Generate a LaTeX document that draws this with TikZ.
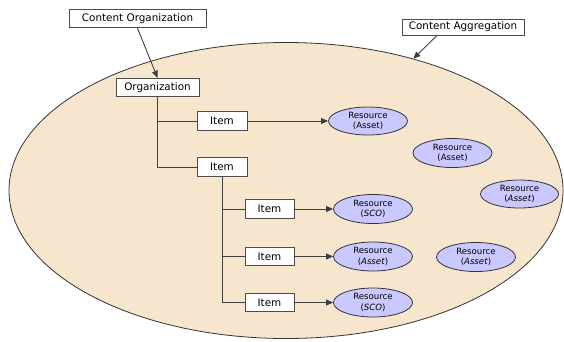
\documentclass[tikz,border=0pt]{standalone}
\usepackage{fontspec}
\setmainfont{DejaVu Sans}
\usetikzlibrary{arrows.meta,shapes.geometric}
\definecolor{aggfill}{HTML}{F7E6CE}
\definecolor{resfill}{HTML}{C9C9FF}
\begin{document}
\begin{tikzpicture}[x=1pt,y=-1pt,
  box/.style={draw=black!70, fill=white, line width=0.9pt, inner sep=0pt,
    minimum height=18.5pt, font=\fontsize{10.4}{12}\selectfont},
  res/.style={ellipse, draw=black!80, fill=resfill, line width=0.8pt, inner sep=0pt,
    minimum width=79pt, minimum height=29pt, align=center,
    font=\fontsize{8.6}{10.4}\selectfont},
  link/.style={draw=black!75, line width=0.9pt},
  arr/.style={link, -{Triangle[length=7pt,width=6pt]}}
]
\useasboundingbox (0,0) rectangle (564,341);

% content aggregation area
\node[ellipse, draw=black!80, fill=aggfill, line width=0.8pt, inner sep=0pt,
  minimum width=554pt, minimum height=296pt] (agg) at (286,190.5) {};

% labels above
\node[box, minimum width=137pt] (co) at (137.5,18.5) {Content Organization};
\node[box, minimum width=122pt, minimum height=16pt] (ca) at (463,27) {Content Aggregation};

% organization tree
\node[box, minimum width=83pt] (org) at (157.5,87.5) {Organization};
\node[box, minimum width=50pt] (it1) at (222,121) {Item};
\node[box, minimum width=50pt] (it2) at (222,167) {Item};
\node[box, minimum width=49pt] (it3) at (269.5,209) {Item};
\node[box, minimum width=49pt] (it4) at (269.5,256.5) {Item};
\node[box, minimum width=49pt] (it5) at (269.5,302.5) {Item};

% resources
\node[res, minimum height=28pt] (r1) at (368,121) {Resource\\(Asset)};
\node[res] (r2) at (452.5,153) {Resource\\(Asset)};
\node[res, minimum width=78pt, minimum height=28pt] (r3) at (519.5,194) {Resource\\(\textit{Asset})};
\node[res] (r4) at (373,209) {Resource\\(\textit{SCO})};
\node[res] (r5) at (373,256.5) {Resource\\(\textit{Asset})};
\node[res] (r6) at (476,257) {Resource\\(\textit{Asset})};
\node[res] (r7) at (373,302.5) {Resource\\(\textit{SCO})};

% connectors
\draw[arr] (co.south) -- (org.north);
\draw[arr] ([xshift=-26pt]ca.south) -- (agg.46);
\draw[link] (org.south) |- (it1.west);
\draw[link] (org.south) |- (it2.west);
\draw[link] (it2.south) |- (it3.west);
\draw[link] (it2.south) |- (it4.west);
\draw[link] (it2.south) |- (it5.west);
\draw[arr] (it1.east) -- (r1.west);
\draw[arr] (it3.east) -- (r4.west);
\draw[arr] (it4.east) -- (r5.west);
\draw[arr] (it5.east) -- (r7.west);
\end{tikzpicture}
\end{document}
